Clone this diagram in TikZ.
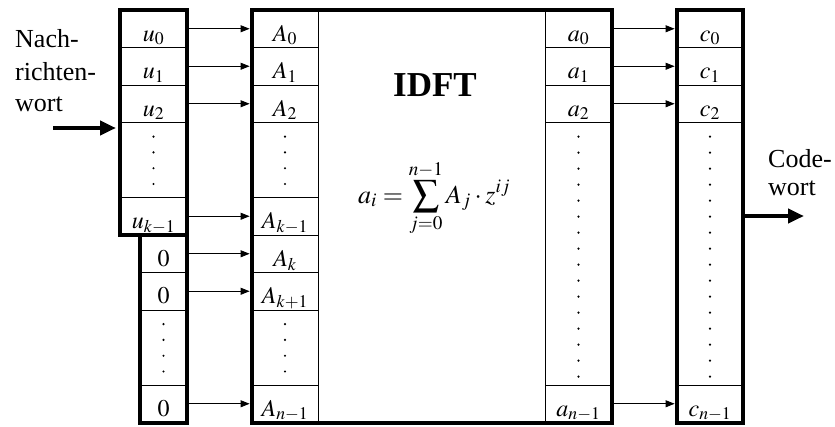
\documentclass[tikz,border=0pt]{standalone}
\usepackage{mathptmx}
\usepackage[no-math]{fontspec}
\setmainfont{Liberation Serif}
\usetikzlibrary{arrows.meta}
\begin{document}
\begin{tikzpicture}[x=1pt,y=-1pt,
  txt/.style={font=\fontsize{26}{30}\selectfont},
  cell/.style={draw, line width=0.8pt, inner sep=0pt, minimum height=37.5pt,
    text height=25pt, text depth=0pt, font=\fontsize{24}{28}\selectfont},
  ucell/.style={cell, minimum width=67pt},
  zcell/.style={cell, minimum width=47pt},
  Acell/.style={cell, minimum width=66pt},
  outer/.style={draw, line width=4pt, inner sep=0pt},
  arr/.style={line width=0.8pt, -{Triangle[length=9pt,width=7pt]}, shorten <=2pt, shorten >=2pt},
  bigarr/.style={line width=4pt, -{Triangle[length=16pt,width=14pt]}, shorten >=2pt},
  dot/.style={fill, circle, inner sep=0pt, minimum size=2.4pt}
]
\useasboundingbox (0,0) rectangle (835,426);

% ---------- u column ----------
\node[ucell] (u0) at (153.5,28.75) {$u_0$};
\node[ucell] (u1) at (153.5,66.25) {$u_1$};
\node[ucell] (u2) at (153.5,103.75) {$u_2$};
\node[ucell, minimum height=75pt] (ud) at (153.5,160) {};
\node[ucell] (uk) at (153.5,216.25) {$u_{k-1}$};
% ---------- zero column ----------
\node[zcell] (z6) at (163.5,253.75) {$0$};
\node[zcell] (z7) at (163.5,291.25) {$0$};
\node[zcell, minimum height=75pt] (zd) at (163.5,347.5) {};
\node[zcell] (z10) at (163.5,403.75) {$0$};
% ---------- A column ----------
\node[Acell] (A0) at (285,28.75) {$A_0$};
\node[Acell] (A1) at (285,66.25) {$A_1$};
\node[Acell] (A2) at (285,103.75) {$A_2$};
\node[Acell, minimum height=75pt] (Ad1) at (285,160) {};
\node[Acell] (A5) at (285,216.25) {$A_{k-1}$};
\node[Acell] (A6) at (285,253.75) {$A_k$};
\node[Acell] (A7) at (285,291.25) {$A_{k+1}$};
\node[Acell, minimum height=75pt] (Ad2) at (285,347.5) {};
\node[Acell] (A10) at (285,403.75) {$A_{n-1}$};
% ---------- a column ----------
\node[Acell, minimum width=67pt] (a0) at (578.5,28.75) {$a_0$};
\node[Acell, minimum width=67pt] (a1) at (578.5,66.25) {$a_1$};
\node[Acell, minimum width=67pt] (a2) at (578.5,103.75) {$a_2$};
\node[Acell, minimum width=67pt, minimum height=262.5pt] (ad) at (578.5,253.75) {};
\node[Acell, minimum width=67pt] (a10) at (578.5,403.75) {$a_{n-1}$};
% ---------- c column ----------
\node[Acell] (c0) at (710,28.75) {$c_0$};
\node[Acell] (c1) at (710,66.25) {$c_1$};
\node[Acell] (c2) at (710,103.75) {$c_2$};
\node[Acell, minimum height=262.5pt] (cd) at (710,253.75) {};
\node[Acell] (c10) at (710,403.75) {$c_{n-1}$};

% ---------- dots ----------
\foreach \n in {ud,Ad1,zd,Ad2} {
  \foreach \i in {0,...,3} \node[dot] at ([yshift=-14.5pt-15.8pt*\i]\n.north) {};
}
\foreach \n in {ad,cd} {
  \foreach \i in {0,...,15} \node[dot] at ([yshift=-14.5pt-16pt*\i]\n.north) {};
}

% ---------- outer thick boxes ----------
\node[outer, minimum width=67pt, minimum height=225pt] (ubox) at (153.5,122.5) {};
\node[outer, minimum width=47pt, minimum height=187.5pt] (zbox) at (163.5,328.75) {};
\node[outer, minimum width=360pt, minimum height=412.5pt] (idft) at (432,216.25) {};
\node[outer, minimum width=66pt, minimum height=412.5pt] (cbox) at (710,216.25) {};

% ---------- centre texts ----------
\node[font=\fontsize{35}{40}\selectfont\bfseries, anchor=base] (title) at (435,96) {IDFT};
\node[font=\fontsize{26}{30}\selectfont, anchor=base west, inner sep=0pt] (formula) at (358,203) {$\displaystyle a_i = \sum_{j=0}^{n-1} A_j \cdot z^{ij}$};

% ---------- side labels ----------
\node[txt, anchor=base west, inner sep=0pt] (l1) at (15,47) {Nach-};
\node[txt, anchor=base west, inner sep=0pt] (l2) at (15,80) {richten-};
\node[txt, anchor=base west, inner sep=0pt] (l3) at (15,111) {wort};
\node[txt, anchor=base west, inner sep=0pt] (r1) at (768,167) {Code-};
\node[txt, anchor=base west, inner sep=0pt] (r2) at (768,195) {wort};

% ---------- arrows ----------
\foreach \s/\t in {u0/A0,u1/A1,u2/A2,uk/A5,z6/A6,z7/A7,z10/A10,a0/c0,a1/c1,a2/c2,a10/c10}
  \draw[arr] (\s.east) -- (\t.west);

\coordinate (inS) at (53,128);
\draw[bigarr] (inS) -- (inS -| ubox.west);
\coordinate (outE) at (806,216);
\draw[bigarr] (outE -| cbox.east) -- (outE);
\end{tikzpicture}
\end{document}
